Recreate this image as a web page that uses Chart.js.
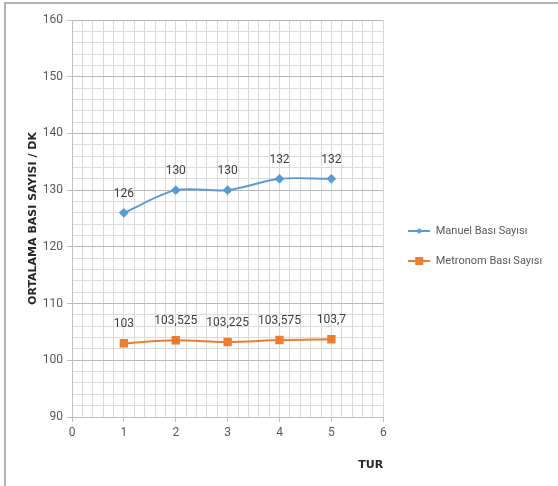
<!DOCTYPE html>
<html>
<head>
<meta charset="utf-8">
<script src="https://cdn.jsdelivr.net/npm/chart.js@4.4.0/dist/chart.umd.min.js"></script>
<style>
  html, body { margin: 0; padding: 0; background: #ffffff; }
  #frame {
    position: absolute; left: 4px; top: 2px; width: 580px; height: 500px;
    border-top: 2px solid #b3b3b3; border-left: 2px solid #b3b3b3;
  }
  #wrap { position: absolute; left: 0; top: 0; width: 558px; height: 486px; }
</style>
</head>
<body>
<div id="frame"></div>
<div id="wrap"><canvas id="chart"></canvas></div>
<script>
// Data
const turlar = [1, 2, 3, 4, 5];
const manuelBasi = [126, 130, 130, 132, 132];
const metronomBasi = [103, 103.525, 103.225, 103.575, 103.7];
const seriesNames = ["Manuel Bası Sayısı", "Metronom Bası Sayısı"];
const xTitle = "TUR";
const yTitle = "ORTALAMA BASI SAYISI / DK";

const blue = "#5b9bd5";
const orange = "#ed7d31";
const labelGrey = "#595959";

Chart.defaults.font.family = "Roboto";

function toPoints(values) {
  return turlar.map((t, i) => ({ x: t, y: values[i] }));
}

function isWhole(v) {
  return Math.abs(v - Math.round(v)) < 1e-6;
}

// legend icon: short line with the marker in the middle
function legendIcon(color, shape) {
  const c = document.createElement("canvas");
  c.width = 22;
  c.height = 10;
  const g = c.getContext("2d");
  g.strokeStyle = color;
  g.lineWidth = 2;
  g.beginPath();
  g.moveTo(0, 5);
  g.lineTo(22, 5);
  g.stroke();
  g.fillStyle = color;
  if (shape === "diamond") {
    g.beginPath();
    g.moveTo(11, 2);
    g.lineTo(14, 5);
    g.lineTo(11, 8);
    g.lineTo(8, 5);
    g.closePath();
    g.fill();
  } else {
    g.fillRect(7, 1, 8, 8);
  }
  return c;
}

const icons = [legendIcon(blue, "diamond"), legendIcon(orange, "square")];

// value labels above each point
const pointLabels = {
  id: "pointLabels",
  afterDatasetsDraw(chart) {
    const ctx = chart.ctx;
    ctx.save();
    ctx.font = "12px Roboto";
    ctx.fillStyle = "#404040";
    ctx.textAlign = "center";
    ctx.textBaseline = "middle";
    chart.data.datasets.forEach((ds, di) => {
      const meta = chart.getDatasetMeta(di);
      meta.data.forEach((pt, i) => {
        const txt = String(ds.data[i].y).replace(".", ",");
        ctx.fillText(txt, pt.x, pt.y - 19);
      });
    });
    ctx.restore();
  },
};

// legend box is capped at a quarter of the width, so widen it to the right
// and push it a little away from the plot
const legendNudge = {
  id: "legendNudge",
  afterLayout(chart) {
    if (chart.legend) {
      chart.legend.left += 6;
      chart.legend.right = chart.width - 4;
    }
  },
};

new Chart(getCtx(), {
  type: "line",
  data: {
    datasets: [
      {
        label: seriesNames[0],
        data: toPoints(manuelBasi),
        borderColor: blue,
        backgroundColor: blue,
        borderWidth: 2,
        pointStyle: "rectRot",
        pointRadius: 3.5,
        tension: 0.3,
      },
      {
        label: seriesNames[1],
        data: toPoints(metronomBasi),
        borderColor: orange,
        backgroundColor: orange,
        borderWidth: 2,
        pointStyle: "rect",
        pointRadius: 4.5,
        tension: 0.3,
      },
    ],
  },
  options: {
    responsive: true,
    maintainAspectRatio: false,
    animation: false,
    layout: { padding: { top: 20, bottom: 14, left: 0, right: 47 } },
    scales: {
      x: {
        type: "linear",
        min: 0,
        max: 6,
        afterFit(scale) {
          scale.height = 55;
        },
        ticks: {
          stepSize: 0.2,
          autoSkip: false,
          maxRotation: 0,
          color: labelGrey,
          font: { size: 12 },
          padding: 4,
          callback: (v) => (isWhole(v) ? Math.round(v) : ""),
        },
        grid: {
          color: "#d9d9d9",
          tickLength: 5,
          tickColor: (c) => (isWhole(c.tick.value) ? "#bfbfbf" : "rgba(0,0,0,0)"),
        },
        border: { color: "#bfbfbf" },
        title: {
          display: true,
          text: xTitle,
          align: "end",
          color: "#262626",
          font: { family: "DejaVu Sans", size: 11, weight: "bold" },
          padding: { top: 0, bottom: 0 },
        },
      },
      y: {
        min: 90,
        max: 160,
        afterFit(scale) {
          scale.width = 72;
        },
        ticks: {
          stepSize: 2,
          autoSkip: false,
          color: labelGrey,
          font: { size: 12 },
          padding: 4,
          callback: (v) => (v % 10 === 0 ? v : ""),
        },
        grid: {
          color: (c) => (c.tick.value % 10 === 0 ? "#b8b8b8" : "#dcdcdc"),
          tickLength: 5,
          tickColor: (c) => (c.tick.value % 10 === 0 ? "#bfbfbf" : "rgba(0,0,0,0)"),
        },
        border: { color: "#bfbfbf" },
        title: {
          display: true,
          text: yTitle,
          color: "#262626",
          font: { family: "DejaVu Sans", size: 11, weight: "bold" },
          padding: { top: 27, bottom: 0 },
        },
      },
    },
    plugins: {
      legend: {
        position: "right",
        labels: {
          usePointStyle: true,
          pointStyleWidth: 22,
          color: labelGrey,
          font: { size: 11 },
          padding: 19,
          generateLabels(chart) {
            return chart.data.datasets.map((ds, i) => ({
              text: ds.label,
              fontColor: labelGrey,
              pointStyle: icons[i],
              datasetIndex: i,
              hidden: false,
              lineWidth: 0,
            }));
          },
        },
      },
      tooltip: { enabled: false },
    },
  },
  plugins: [pointLabels, legendNudge],
});

function getCtx() {
  return document.getElementById("chart");
}
</script>
</body>
</html>
